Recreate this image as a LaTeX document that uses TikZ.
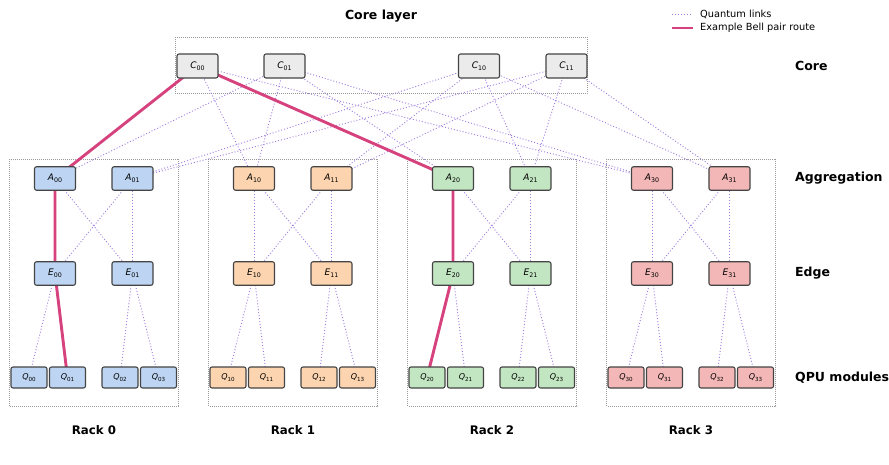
\documentclass[tikz,border=0pt]{standalone}
\usepackage{fontspec}
\setmainfont{DejaVu Sans}
\usetikzlibrary{backgrounds}

\definecolor{rackA}{HTML}{BDD5F2}
\definecolor{rackB}{HTML}{FCD5B0}
\definecolor{rackC}{HTML}{C3E6C2}
\definecolor{rackD}{HTML}{F4B7B7}
\definecolor{coreFill}{HTML}{EBEBEB}
\definecolor{nodeEdge}{HTML}{444444}
\definecolor{qlink}{HTML}{9370DB}
\definecolor{bell}{HTML}{D6427E}
\definecolor{frameGray}{HTML}{9A9A9A}

% switch labels: italic letter with an upright subscript index
\newcommand{\bigsw}[2]{{\fontsize{9}{11}\selectfont\itshape #1}\raisebox{-2pt}{\fontsize{6.3}{7}\selectfont #2}}
\newcommand{\smallsw}[2]{{\fontsize{8}{10}\selectfont\itshape #1}\raisebox{-1.8pt}{\fontsize{5.6}{6.5}\selectfont #2}}

\tikzset{
  swbox/.style={draw=nodeEdge, line width=1.1pt, rounded corners=2pt,
    minimum width=41pt, minimum height=23.5pt, inner sep=0pt},
  corebox/.style={swbox, fill=coreFill, minimum height=24pt},
  qpubox/.style={draw=nodeEdge, line width=1.1pt, rounded corners=2pt,
    minimum width=36pt, minimum height=21pt, inner sep=0pt},
  qlinkline/.style={draw=qlink, draw opacity=0.9, line width=0.9pt, dash pattern=on 1pt off 2pt},
  bellline/.style={draw=bell, line width=2.9pt, line join=round},
  framebox/.style={draw=frameGray, line width=0.8pt, dash pattern=on 0.8pt off 1.2pt},
  headlabel/.style={font=\fontsize{12.5}{15}\selectfont\bfseries, inner sep=0pt},
  racklabel/.style={font=\fontsize{11.8}{14}\selectfont\bfseries, inner sep=0pt},
  rowlabel/.style={headlabel, anchor=west},
  legendtext/.style={anchor=west, inner sep=0pt, font=\fontsize{9.8}{12}\selectfont}
}

\begin{document}
\begin{tikzpicture}[x=1pt, y=-1pt]
\useasboundingbox (0,0) rectangle (889,464);

% title and core frame
\node[headlabel] (title) at (381,16) {Core layer};
\begin{scope}[on background layer]
  \draw[framebox] (175,37) rectangle (587,93.5);
\end{scope}

% core switches
\node[corebox] (C00) at (197.5,66) {\bigsw{C}{00}};
\node[corebox] (C01) at (284.5,66) {\bigsw{C}{01}};
\node[corebox] (C10) at (479,66)   {\bigsw{C}{10}};
\node[corebox] (C11) at (566.5,66) {\bigsw{C}{11}};

% racks: aggregation, edge and QPU modules
\foreach \r/\col in {0/rackA,1/rackB,2/rackC,3/rackD}{
  \begin{scope}[on background layer]
    \draw[framebox] ({9.5+199*\r},159) rectangle ({178.5+199*\r},406);
  \end{scope}
  \node[swbox, fill=\col] (A\r0) at ({55+199*\r},178.5)  {\bigsw{A}{\r0}};
  \node[swbox, fill=\col] (A\r1) at ({132.5+199*\r},178.5) {\bigsw{A}{\r1}};
  \node[swbox, fill=\col] (E\r0) at ({55+199*\r},273.5)  {\bigsw{E}{\r0}};
  \node[swbox, fill=\col] (E\r1) at ({132.5+199*\r},273.5) {\bigsw{E}{\r1}};
  \node[qpubox, fill=\col] (Q\r0) at ({29+199*\r},377.5)    {\smallsw{Q}{\r0}};
  \node[qpubox, fill=\col] (Q\r1) at ({67.5+199*\r},377.5)  {\smallsw{Q}{\r1}};
  \node[qpubox, fill=\col] (Q\r2) at ({120+199*\r},377.5)   {\smallsw{Q}{\r2}};
  \node[qpubox, fill=\col] (Q\r3) at ({158.5+199*\r},377.5) {\smallsw{Q}{\r3}};
  \node[racklabel] (rack\r) at ({94+199*\r},430) {Rack \r};
}

% quantum links and the Bell pair route, beneath the switches
\begin{scope}[on background layer]
  \foreach \r in {0,...,3}{
    \draw[qlinkline] (C00.center) -- (A\r0.center);
    \draw[qlinkline] (C01.center) -- (A\r0.center);
    \draw[qlinkline] (C10.center) -- (A\r1.center);
    \draw[qlinkline] (C11.center) -- (A\r1.center);
    \draw[qlinkline] (A\r0.center) -- (E\r0.center);
    \draw[qlinkline] (A\r0.center) -- (E\r1.center);
    \draw[qlinkline] (A\r1.center) -- (E\r0.center);
    \draw[qlinkline] (A\r1.center) -- (E\r1.center);
    \draw[qlinkline] (E\r0.center) -- (Q\r0.center);
    \draw[qlinkline] (E\r0.center) -- (Q\r1.center);
    \draw[qlinkline] (E\r1.center) -- (Q\r2.center);
    \draw[qlinkline] (E\r1.center) -- (Q\r3.center);
  }
  \draw[bellline] (Q01.center) -- (E00.center) -- (A00.center) -- (C00.center)
    -- (A20.center) -- (E20.center) -- (Q20.center);
\end{scope}

% layer labels
\node[rowlabel] (lcore) at (795,66)    {Core};
\node[rowlabel] (lagg)  at (795,178.5) {Aggregation};
\node[rowlabel] (ledge) at (795,273)   {Edge};
\node[rowlabel] (lqpu)  at (795,377.5) {QPU modules};

% legend
\coordinate (lq1) at (672,14);
\coordinate (lq2) at (693,14);
\coordinate (lb1) at (672,28);
\coordinate (lb2) at (693,28);
\draw[qlinkline] (lq1) -- (lq2);
\draw[bellline] (lb1) -- (lb2);
\node[legendtext] (lqt) at (700,14) {Quantum links};
\node[legendtext] (lbt) at (700,28) {Example Bell pair route};
\end{tikzpicture}
\end{document}
